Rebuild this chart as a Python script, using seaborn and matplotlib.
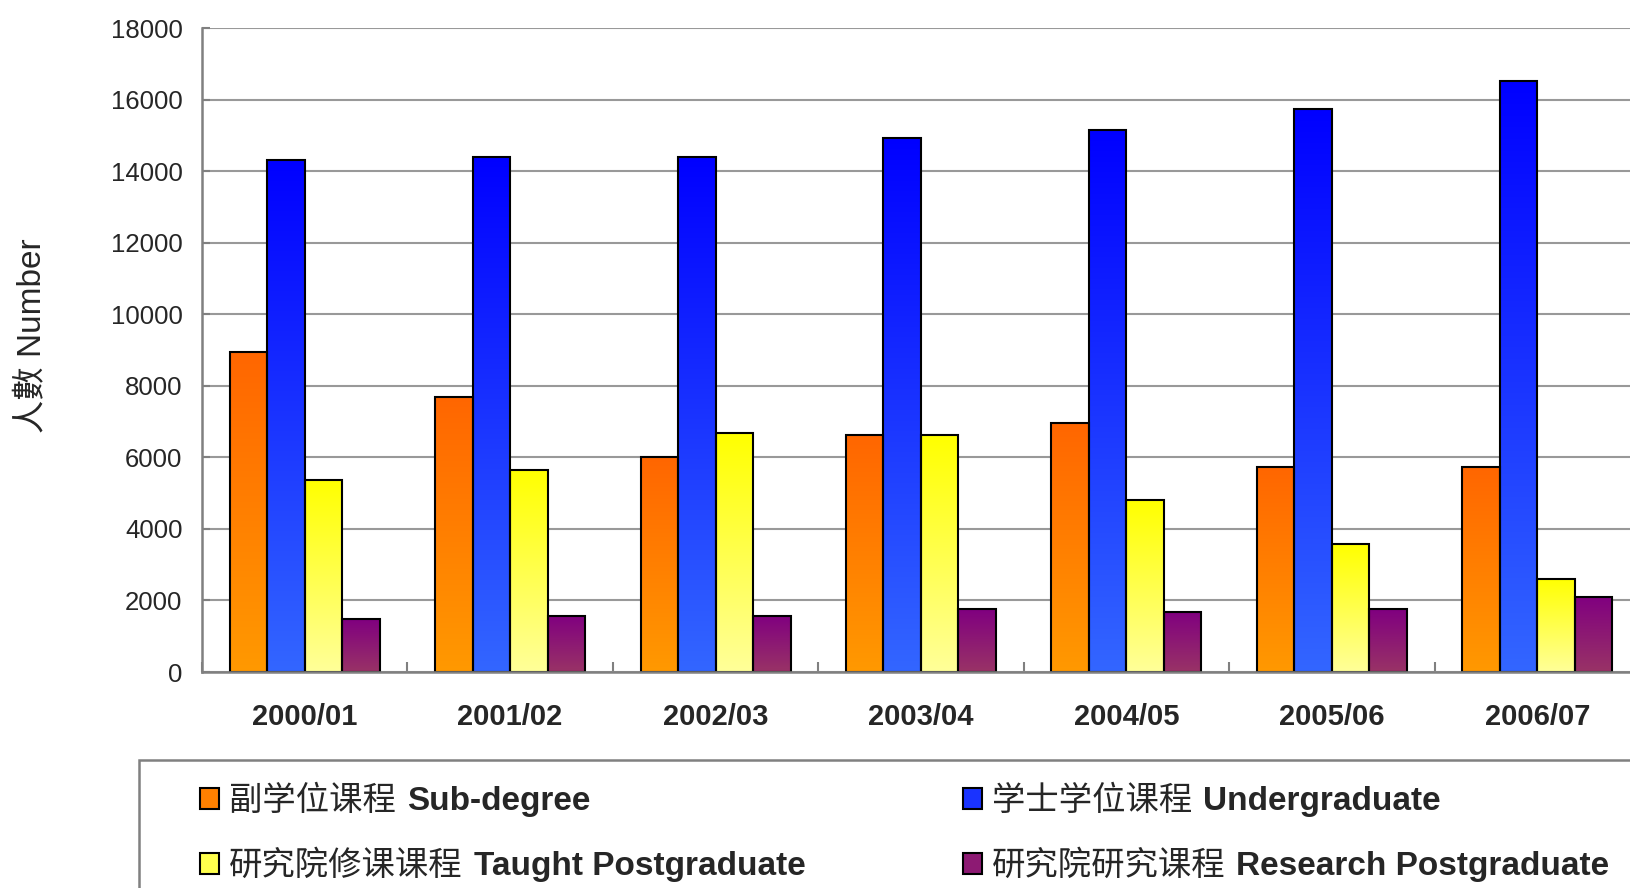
import numpy as np
import pandas as pd
import seaborn as sns
import matplotlib.pyplot as plt
from matplotlib.colors import LinearSegmentedColormap, to_rgb
from matplotlib.patches import Patch, Rectangle

# data
years = ["2000/01", "2001/02", "2002/03", "2003/04", "2004/05", "2005/06", "2006/07"]
sub_degree = [8950, 7700, 6000, 6620, 6970, 5720, 5720]
undergraduate = [14300, 14400, 14400, 14920, 15150, 15730, 16520]
taught_pg = [5380, 5660, 6680, 6620, 4800, 3570, 2600]
research_pg = [1470, 1570, 1570, 1750, 1690, 1750, 2110]

series = ["Sub-degree", "Undergraduate", "Taught Postgraduate", "Research Postgraduate"]
cn_labels = ["副学位课程", "学士学位课程", "研究院修课课程", "研究院研究课程"]

# (top colour, bottom colour) for the gradient fill
grad = {
    "Sub-degree": ("#FF6600", "#FF9900"),
    "Undergraduate": ("#0000FF", "#3366FF"),
    "Taught Postgraduate": ("#FFFF00", "#FFFF99"),
    "Research Postgraduate": ("#800080", "#993366"),
}
mid = {k: tuple((np.array(to_rgb(a)) + np.array(to_rgb(b))) / 2) for k, (a, b) in grad.items()}

rows = []
for s, vals in zip(series, [sub_degree, undergraduate, taught_pg, research_pg]):
    for y, v in zip(years, vals):
        rows.append({"year": y, "series": s, "value": v})
df = pd.DataFrame(rows)

sns.set_theme(style="white")
plt.rcParams["font.family"] = ["Liberation Sans", "Noto Sans CJK SC", "DejaVu Sans"]

fig = plt.figure(figsize=(16.3, 8.88), dpi=100)
ax = fig.add_axes([0.1239, 0.2432, 0.8822, 0.7252])

ax = sns.barplot(data=df, x="year", y="value", hue="series", order=years, hue_order=series,
                 palette=mid, width=0.73, gap=0, saturation=1, ax=ax,
                 edgecolor="black", linewidth=1.5, legend=False, errorbar=None)

# gradient fill for each bar, clipped to the bar
for cont, s in zip(ax.containers, series):
    top, bot = grad[s]
    cmap = LinearSegmentedColormap.from_list(s, [bot, top])
    g = np.linspace(0, 1, 256).reshape(-1, 1)
    for p in cont.patches:
        x0, y0 = p.get_x(), p.get_y()
        w, h = p.get_width(), p.get_height()
        ax.imshow(g, cmap=cmap, extent=[x0, x0 + w, y0, y0 + h], origin="lower",
                  aspect="auto", zorder=p.get_zorder() - 0.01, interpolation="bicubic")
        p.set_facecolor("none")

ax.set_xlim(-0.5, len(years) - 0.5)
ax.set_ylim(0, 18000)
ax.set_yticks(np.arange(0, 18001, 2000))
ax.yaxis.grid(True, color="#999999", linewidth=1.5)
ax.set_axisbelow(True)

for side in ["top", "right"]:
    ax.spines[side].set_visible(False)
for side in ["left", "bottom"]:
    ax.spines[side].set_color("#808080")
    ax.spines[side].set_linewidth(1.8)

ax.tick_params(axis="y", direction="in", length=6, width=1.5, color="#808080",
               labelsize=18.5, pad=14, left=True)
ax.tick_params(axis="x", which="major", length=0, labelsize=21, pad=22)
ax.set_xticks(np.arange(-0.5, len(years), 1), minor=True)
ax.tick_params(axis="x", which="minor", direction="in", length=7, width=1.5,
               color="#808080", bottom=True)
for t in ax.get_xticklabels():
    t.set_fontweight("bold")

ax.set_xlabel("")
ax.set_ylabel("人數 Number", fontsize=24, ha="center", va="center")
ax.yaxis.set_label_coords(-0.1175, 0.522)

# legend box (runs past the figure edge like the source)
fig.patches.append(Rectangle((139 / 1630, -0.2), 1.2, 0.2 + (888 - 760) / 888,
                             transform=fig.transFigure, facecolor="none",
                             edgecolor="#808080", linewidth=1.8, zorder=5))

order = [0, 2, 1, 3]
handles = [Patch(facecolor=mid[series[i]], edgecolor="black", linewidth=1.5) for i in order]
labels = [cn_labels[i] for i in order]
leg = fig.legend(handles, labels, loc="upper left", bbox_to_anchor=(200 / 1630, 1 - 786 / 888),
                 ncol=2, frameon=False, fontsize=24, borderpad=0, borderaxespad=0,
                 handlelength=0.57, handleheight=0.57, handletextpad=0.3,
                 columnspacing=15.0, labelspacing=1.0)

fig.canvas.draw()

# bold english part appended after each chinese label
for txt, i in zip(leg.get_texts(), order):
    ann = fig.text(0, 0, series[i], fontsize=24, fontweight="bold", ha="left", va="center",
                   zorder=10)
    bb = txt.get_window_extent()
    x, y = fig.transFigure.inverted().transform((bb.x1 + 11, (bb.y0 + bb.y1) / 2))
    ann.set_position((x, y))

fig.savefig("out.png", dpi=100)
